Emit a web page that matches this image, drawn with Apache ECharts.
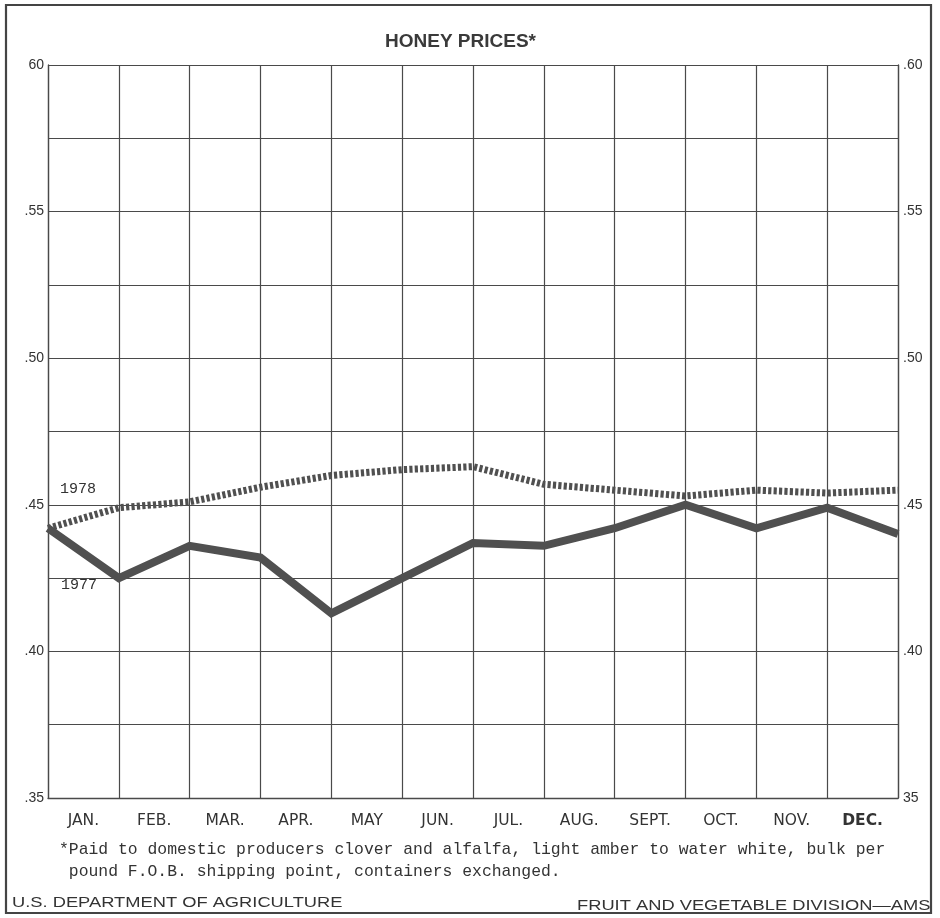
<!DOCTYPE html>
<html>
<head>
<meta charset="utf-8">
<script src="https://cdn.jsdelivr.net/npm/echarts@6/dist/echarts.min.js"></script>
<style>
html,body{margin:0;padding:0;background:#fff;}
#chart{width:940px;height:918px;}
</style>
</head>
<body>
<div id="chart"></div>
<script>
// ---- data ----
const months = ['JAN.', 'FEB.', 'MAR.', 'APR.', 'MAY', 'JUN.', 'JUL.', 'AUG.', 'SEPT.', 'OCT.', 'NOV.', 'DEC.'];
// values plotted at the 13 month boundaries
const prices1977 = [0.442, 0.425, 0.436, 0.432, 0.413, 0.425, 0.437, 0.436, 0.442, 0.450, 0.442, 0.449, 0.440];
const prices1978 = [0.442, 0.449, 0.451, 0.456, 0.460, 0.462, 0.463, 0.457, 0.455, 0.453, 0.455, 0.454, 0.455];
const leftTickLabels = ['.35', '.40', '.45', '.50', '.55', '60'];
const rightTickLabels = ['35', '.40', '.45', '.50', '.55', '.60'];
const titleText = 'HONEY PRICES*';
const footnoteLines = [
  '*Paid to domestic producers clover and alfalfa, light amber to water white, bulk per',
  ' pound F.O.B. shipping point, containers exchanged.'
];
const leftCredit = 'U.S. DEPARTMENT OF AGRICULTURE';
const rightCredit = 'FRUIT AND VEGETABLE DIVISION\u2014AMS';

// ---- chart ----
const chart = echarts.init(document.getElementById('chart'), null, {renderer: 'canvas'});
const Y_MIN = 0.35, Y_MAX = 0.60, Y_STEP = 0.025;
function tickFormatter(labels) {
  return function (v) {
    const k = Math.round((v - Y_MIN) / Y_STEP);
    if (k % 2 !== 0) return '';
    return labels[k / 2] || '';
  };
}
const gridColor = '#4a4a4a';
const textColor = '#333';
const sans = '"Liberation Sans", Arial, sans-serif';
const wide = '"DejaVu Sans", "Liberation Sans", sans-serif';
const narrow = '"Liberation Sans Narrow", "Liberation Sans", sans-serif';
const mono = '"Liberation Mono", "DejaVu Sans Mono", monospace';

const option = {
  backgroundColor: '#fff',
  animation: false,
  title: {
    text: titleText,
    left: 380,
    top: 27,
    textStyle: {fontFamily: narrow, fontWeight: 'bold', fontSize: 19, color: '#3a3a3a'}
  },
  grid: {left: 48, right: 42, top: 65, bottom: 120, show: false},
  xAxis: [
    {
      type: 'category',
      data: months.map(m => m === 'DEC.' ? {value: m, textStyle: {fontWeight: 'bold'}} : m),
      boundaryGap: true,
      axisLine: {show: true, lineStyle: {color: gridColor, width: 1.3}},
      axisTick: {show: false},
      axisLabel: {interval: 0, margin: 15, color: textColor, fontFamily: wide, fontSize: 15.5},
      splitLine: {show: true, interval: 0, lineStyle: {color: gridColor, width: 1.2}}
    },
    {
      type: 'value',
      min: 0, max: 12,
      show: false
    }
  ],
  yAxis: [
    {
      type: 'value',
      position: 'left',
      min: Y_MIN, max: Y_MAX, interval: Y_STEP,
      axisLine: {show: true, lineStyle: {color: gridColor, width: 1.3}},
      axisTick: {show: false},
      axisLabel: {margin: 4, color: textColor, fontFamily: sans, fontSize: 14, formatter: tickFormatter(leftTickLabels)},
      splitLine: {show: true, lineStyle: {color: gridColor, width: 1.2}}
    },
    {
      type: 'value',
      position: 'right',
      min: Y_MIN, max: Y_MAX, interval: Y_STEP,
      axisLine: {show: true, lineStyle: {color: gridColor, width: 1.3}},
      axisTick: {show: false},
      axisLabel: {margin: 5, color: textColor, fontFamily: sans, fontSize: 14, formatter: tickFormatter(rightTickLabels)},
      splitLine: {show: false}
    }
  ],
  series: [
    {
      name: '1977',
      type: 'line',
      xAxisIndex: 1, yAxisIndex: 0,
      data: prices1977.map((v, i) => [i, v]),
      showSymbol: false,
      lineStyle: {color: '#505050', width: 8, join: 'miter'},
      z: 3
    },
    {
      name: '1978',
      type: 'line',
      xAxisIndex: 1, yAxisIndex: 0,
      data: prices1978.map((v, i) => [i, v]),
      showSymbol: false,
      lineStyle: {color: '#505050', width: 7, type: [3.2, 2.2]},
      z: 4
    }
  ],
  graphic: [
    {type: 'rect', id: 'frame', shape: {x: 6, y: 5, width: 925, height: 908},
      style: {fill: 'none', stroke: '#444', lineWidth: 2.2}, z: 0, silent: true},
    {type: 'text', id: 'fn1', x: 59, y: 842,
      style: {text: footnoteLines[0], font: '16.4px ' + mono, fill: textColor}},
    {type: 'text', id: 'fn2', x: 59, y: 864,
      style: {text: footnoteLines[1], font: '16.4px ' + mono, fill: textColor}},
    {type: 'text', id: 'c1', x: 12, y: 903, scaleX: 1.22,
      style: {text: leftCredit, font: '15px ' + sans, fill: textColor, verticalAlign: 'middle'}},
    {type: 'text', id: 'c2', x: 577, y: 906, scaleX: 1.22,
      style: {text: rightCredit, font: '15px ' + sans, fill: textColor, verticalAlign: 'middle'}}
  ]
};
chart.setOption(option);

// year labels anchored to the first data point of each series
const p77 = chart.convertToPixel({xAxisIndex: 1, yAxisIndex: 0}, [0, prices1977[0]]);
const p78 = chart.convertToPixel({xAxisIndex: 1, yAxisIndex: 0}, [0, prices1978[0]]);
chart.setOption({
  graphic: [
    {type: 'text', id: 'lab78', x: p78[0] + 30, y: p78[1] - 39,
      style: {text: '1978', font: '15px ' + mono, fill: textColor, align: 'center', verticalAlign: 'middle'}},
    {type: 'text', id: 'lab77', x: p77[0] + 31, y: p77[1] + 57,
      style: {text: '1977', font: '15px ' + mono, fill: textColor, align: 'center', verticalAlign: 'middle'}}
  ]
});
</script>
</body>
</html>
